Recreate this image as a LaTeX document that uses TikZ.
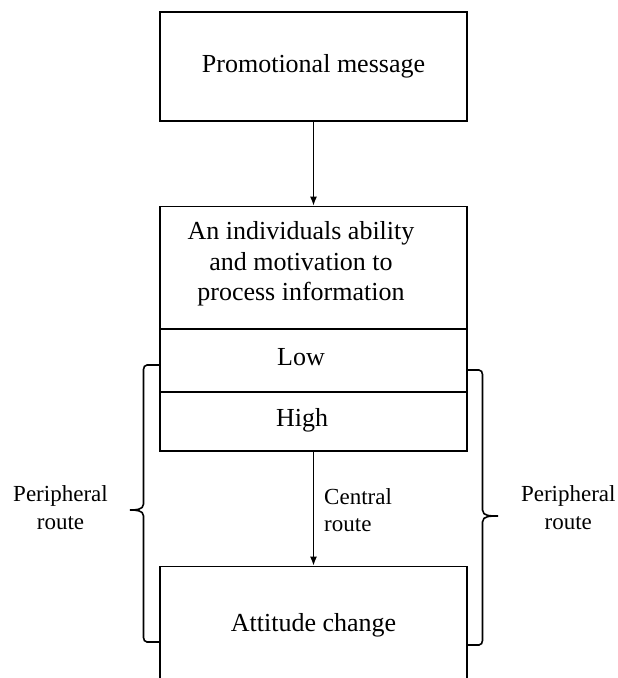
\documentclass[tikz,border=0pt]{standalone}
\usepackage{fontspec}
\setmainfont{Liberation Serif}
\usetikzlibrary{arrows.meta}

\begin{document}
\begin{tikzpicture}[x=1pt, y=-1pt,
  box/.style={draw, line width=1.7pt, minimum width=307pt, inner sep=0pt,
    font=\fontsize{26}{30.7}\selectfont},
  txt/.style={inner sep=0pt, anchor=base, align=center,
    font=\fontsize{26}{30.7}\selectfont},
  lbl/.style={inner sep=0pt, anchor=base, font=\fontsize{23}{27.6}\selectfont},
  brc/.style={draw, line width=1.6pt},
  every edge/.style={draw, line width=1.5pt, -{Latex[width=7pt,length=9pt]}}]

  \useasboundingbox (0,0) rectangle (618,678);

  % boxes
  \node[box, minimum height=109pt] (msg) at (313.5,66.3) {Promotional message};
  \node[box, minimum height=122.5pt] (abil) at (313.5,267.8) {};
  \node[box, minimum height=63pt] (low) at (313.5,360.5) {};
  \node[box, minimum height=59pt] (high) at (313.5,421.5) {};
  \node[box, minimum height=118.4pt] (att) at (313.5,625.7) {Attitude change};

  % texts of the middle box (base = last line)
  \node[txt] (abiltxt) at (301,300.7) {An individuals ability\\and motivation to\\process information};
  \node[txt] (lowtxt) at (301,365.7) {Low};
  \node[txt] (hightxt) at (302,426.7) {High};

  \path (msg) edge (abil);
  \path (high) edge (att);

  % braces
  \coordinate (lbt) at (159.5,365);
  \coordinate (lbb) at (159.5,642);
  \coordinate (rbt) at (466.5,370);
  \coordinate (rbb) at (466.5,645);

  \draw[brc] (lbt) -- (147,365) to[out=180,in=90] (143.5,369.5) -- (143.5,504)
    to[out=-90,in=0] (130,510) to[out=0,in=90] (143.5,516) -- (143.5,637.5)
    to[out=-90,in=180] (147,642) -- (lbb);
  \draw[brc] (rbt) -- (479,370) to[out=0,in=90] (482.5,374.5) -- (482.5,510)
    to[out=-90,in=180] (498,516) to[out=180,in=90] (482.5,522) -- (482.5,640.5)
    to[out=-90,in=0] (479,645) -- (rbb);

  % route labels
  \node[lbl, align=center] (lroute) at (60.5,529.3) {Peripheral\\route};
  \node[lbl, align=center] (rroute) at (568.3,529.3) {Peripheral\\route};
  \node[lbl, align=left, anchor=base west] (croute) at (324,531.6) {Central\\route};

\end{tikzpicture}
\end{document}
